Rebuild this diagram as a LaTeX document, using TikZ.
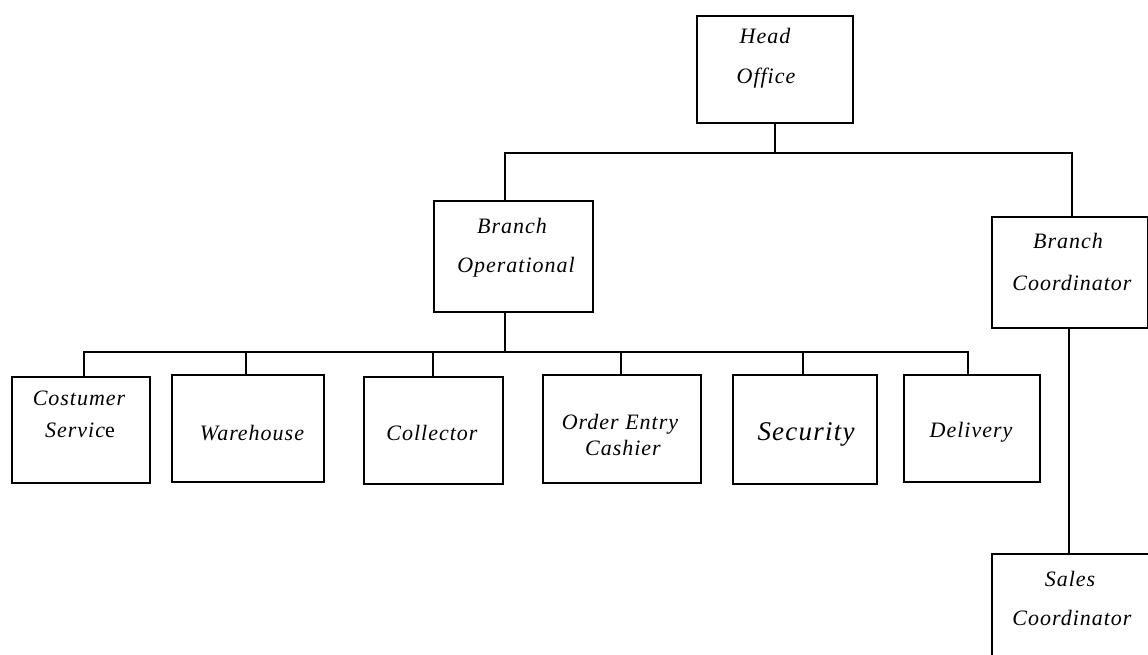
\documentclass[tikz,border=0pt]{standalone}
\usepackage{fontspec}
\setmainfont{Liberation Serif}
\newfontfamily\lblfont{Liberation Serif}[LetterSpace=4.5]
\begin{document}
\begin{tikzpicture}[x=1pt,y=-1pt,
  box/.style={draw, line width=2pt, inner sep=0pt, anchor=north west},
  lbl/.style={font=\lblfont\fontsize{22}{26}\selectfont\itshape, anchor=base, inner sep=0pt},
  biglbl/.style={font=\lblfont\fontsize{27}{30}\selectfont\itshape, anchor=base, inner sep=0pt},
  conn/.style={line width=1.7pt}]
\useasboundingbox (0,0) rectangle (1148,654);
\clip (0,0) rectangle (1148,654);
\fill[white] (0,0) rectangle (1148,654);
% boxes
\node[box, minimum width=156pt, minimum height=107pt] (head) at (696,15) {};
\node[box, minimum width=159pt, minimum height=111pt] (bo) at (433,200) {};
\node[box, minimum width=156pt, minimum height=111pt] (bc) at (991,216) {};
\node[box, minimum width=138pt, minimum height=106pt] (cs) at (11,376) {};
\node[box, minimum width=152pt, minimum height=107pt] (wh) at (171,374) {};
\node[box, minimum width=139pt, minimum height=107pt] (co) at (363,376) {};
\node[box, minimum width=158pt, minimum height=108pt] (oe) at (542,374) {};
\node[box, minimum width=144pt, minimum height=109pt] (se) at (732,374) {};
\node[box, minimum width=136pt, minimum height=107pt] (de) at (903,374) {};
\node[box, minimum width=170pt, minimum height=120pt] (sc) at (991,553) {};
% labels
\node[lbl] (headA) at (765,43) {Head};
\node[lbl] (headB) at (766,83) {Office};
\node[lbl] (boA) at (512,233) {Branch};
\node[lbl] (boB) at (516,272) {Operational};
\node[lbl] (bcA) at (1068,248) {Branch};
\node[lbl] (bcB) at (1072,290) {Coordinator};
\node[lbl] (csA) at (79,405) {Costumer};
\node[lbl] (csB) at (80,437) {Servic{\upshape e}};
\node[lbl] (whA) at (252,440) {Warehouse};
\node[lbl] (coA) at (432,440) {Collector};
\node[lbl] (oeA) at (620,429) {Order Entry};
\node[lbl] (oeB) at (623,455) {Cashier};
\node[biglbl] (seA) at (806,440) {Security};
\node[lbl] (deA) at (971,437) {Delivery};
\node[lbl] (scA) at (1070,586) {Sales};
\node[lbl] (scB) at (1072,625) {Coordinator};
% connectors
\coordinate (h1) at (505,153);
\coordinate (h2) at (1072,153);
\draw[conn] (head.south) -- (head.south |- h1);
\draw[conn] (h1 |- bo.north) -- (h1) -- (h2) -- (h2 |- bc.north);
\coordinate (b0) at (505,352);
\coordinate (b1) at (84,352);
\coordinate (b2) at (246,352);
\coordinate (b3) at (433,352);
\coordinate (b4) at (621,352);
\coordinate (b5) at (803,352);
\coordinate (b6) at (968,352);
\draw[conn] (b0 |- bo.south) -- (b0);
\draw[conn] (b1 |- cs.north) -- (b1) -- (b6) -- (b6 |- de.north);
\draw[conn] (b2) -- (b2 |- wh.north);
\draw[conn] (b3) -- (b3 |- co.north);
\draw[conn] (b4) -- (b4 |- oe.north);
\draw[conn] (b5) -- (b5 |- se.north);
\coordinate (v) at (1069,0);
\draw[conn] (v |- bc.south) -- (v |- sc.north);
\end{tikzpicture}
\end{document}
